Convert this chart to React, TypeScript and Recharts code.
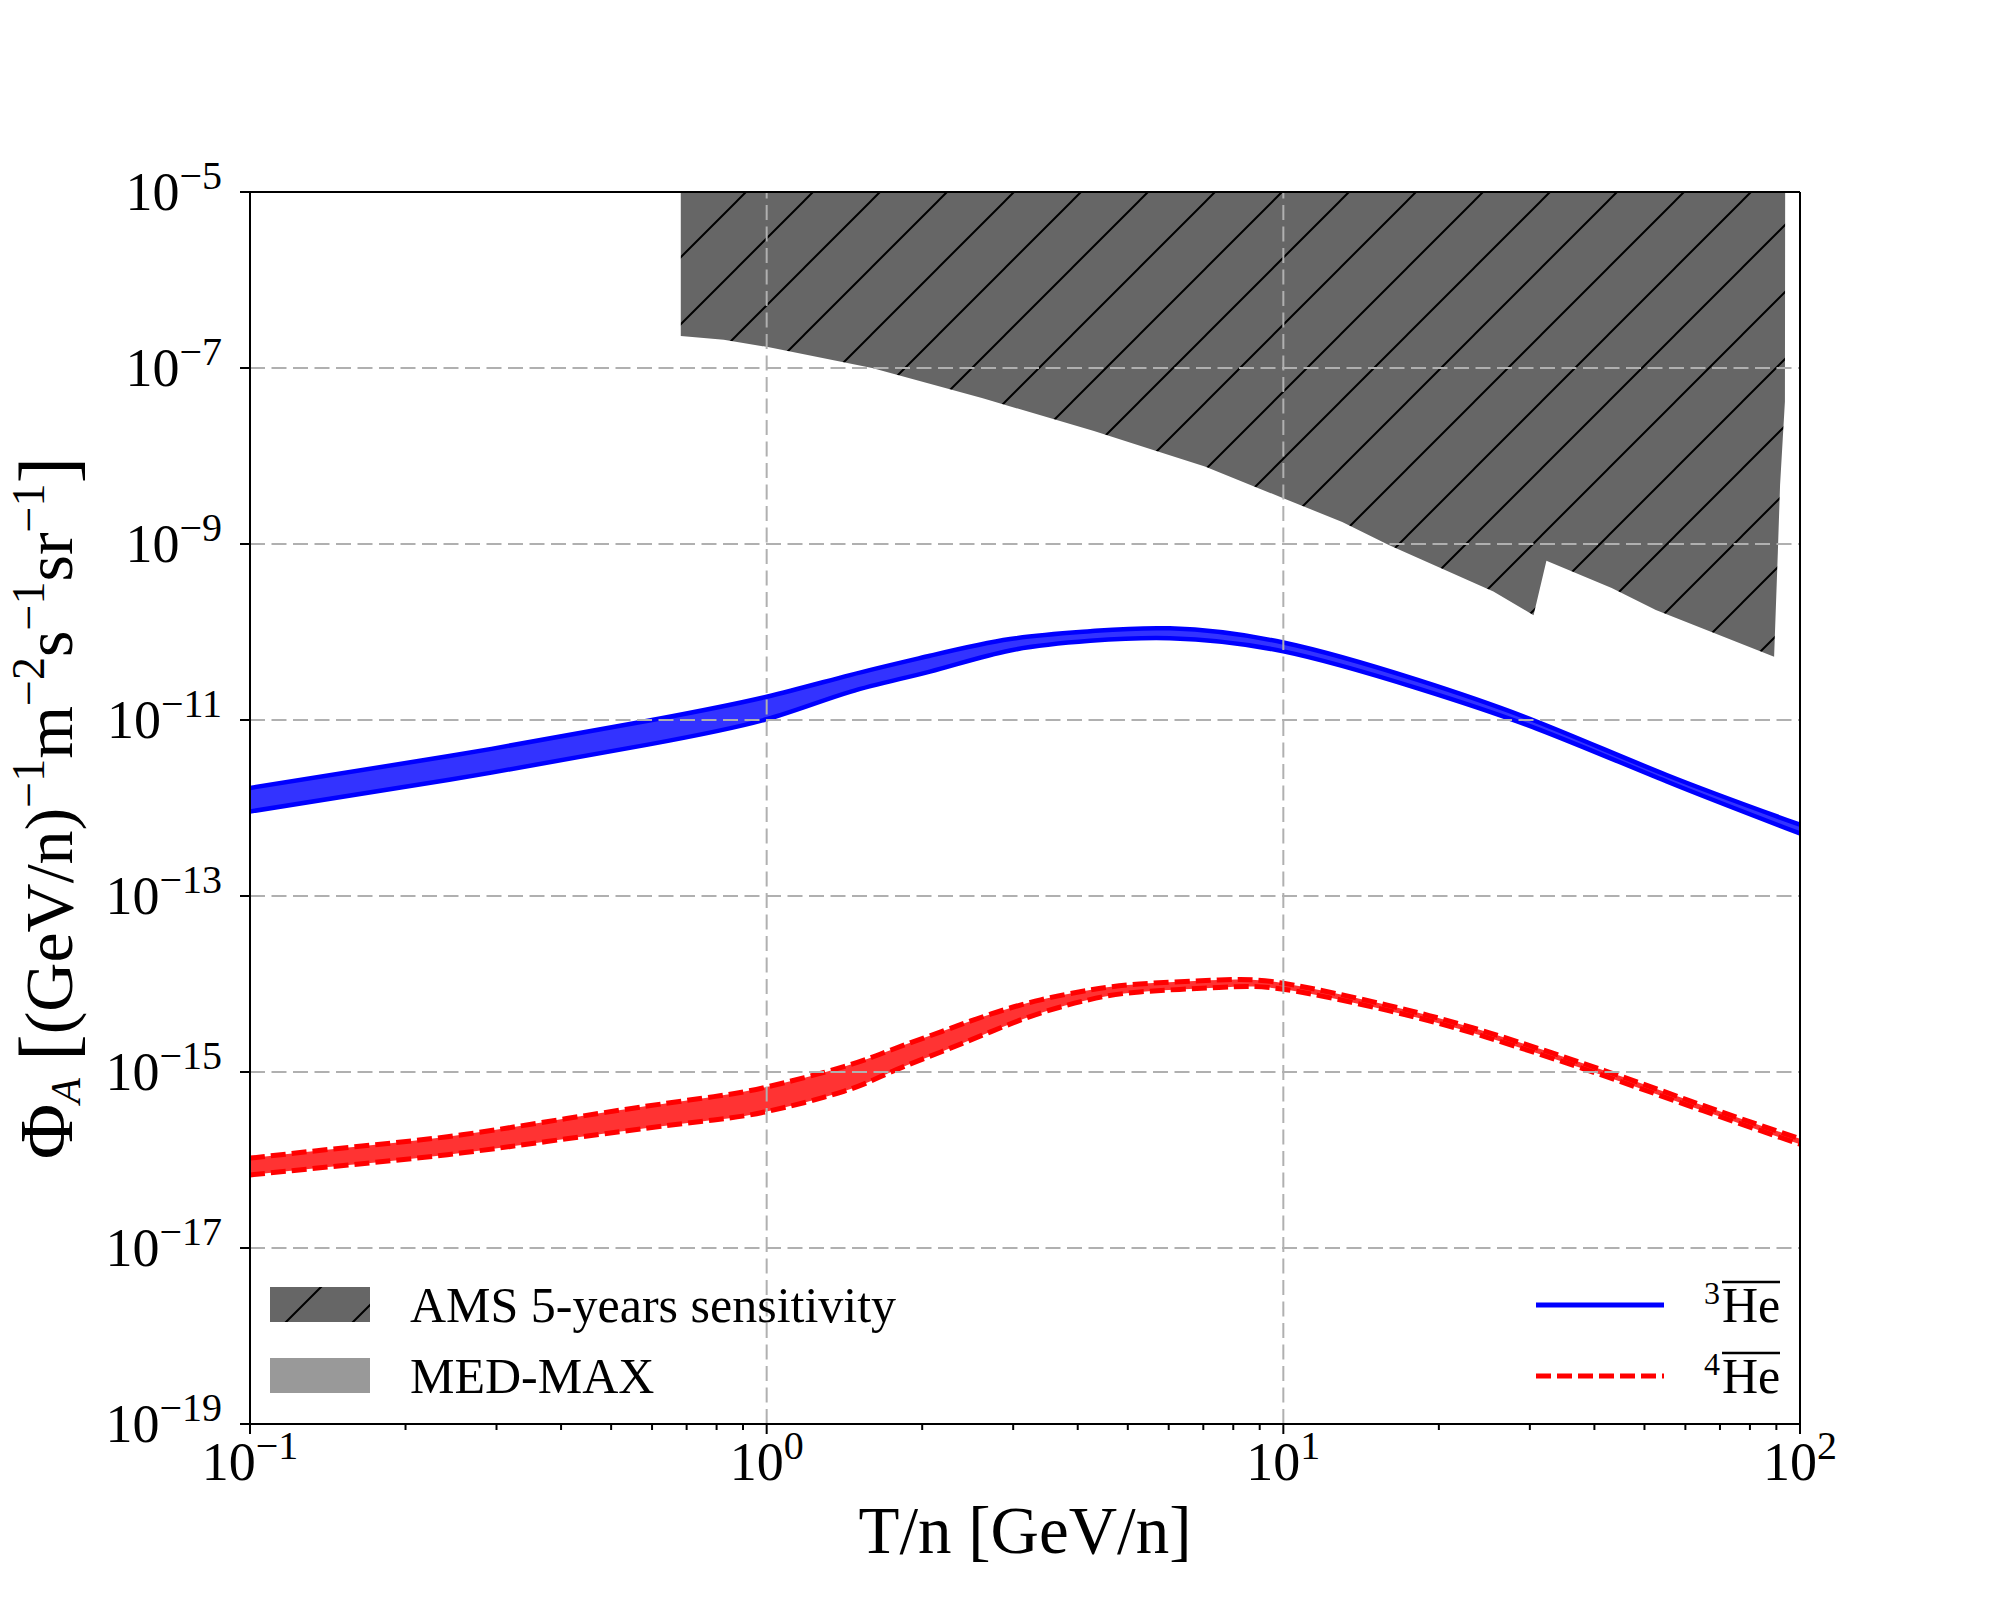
import React from 'react';
import { ComposedChart, Area, Line, XAxis, YAxis, ReferenceLine, Label } from 'recharts';

const FONT = '"Liberation Serif", "DejaVu Serif", serif';
const TICK_SIZE = 10;
const TICK_MARGIN = 18;

// axes
const xMajorTicks = [0.1, 1, 10, 100];
const xMajorExps = ['\u22121', '0', '1', '2'];
const xMinorTicks = [0.2, 0.3, 0.4, 0.5, 0.6, 0.7, 0.8, 0.9, 2, 3, 4, 5, 6, 7, 8, 9, 20, 30, 40, 50, 60, 70, 80, 90];
const yMajorTicks = [1e-19, 1e-17, 1e-15, 1e-13, 1e-11, 1e-9, 1e-7, 1e-5];
const yMajorExps = ['\u221219', '\u221217', '\u221215', '\u221213', '\u221211', '\u22129', '\u22127', '\u22125'];

// AMS 5-years sensitivity (lower edge, region extends to the top of the frame)
const amsT = [0.682, 0.826, 1.0, 1.6, 2.62, 4.3, 5.6, 7.05, 10, 13, 16, 19.6, 25.5, 30.5, 32.3, 43.2, 52.6, 89.1, 90.6, 91.5, 93.5, 93.6];
const amsLow = [2.31e-7, 2.09e-7, 1.74e-7, 1.0e-7, 4.52e-8, 1.92e-8, 1.17e-8, 7.59e-9, 3.31e-9, 1.78e-9, 9.77e-10, 5.75e-10, 2.88e-10, 1.55e-10, 6.46e-10, 3.16e-10, 1.78e-10, 5.25e-11, 8.13e-10, 4.68e-9, 4.17e-8, 1e-5];
const AMS_TOP = 1e-5;

// anti-3He band (MED-MAX)
const he3T = [0.1, 0.243, 0.589, 1.0, 1.45, 2.07, 2.96, 4.23, 6.03, 10, 18.2, 31, 55.2, 100];
const he3Upper = [1.69e-12, 3.89e-12, 9.8e-12, 1.84e-11, 3.24e-11, 5.37e-11, 8.32e-11, 1.02e-10, 1.10e-10, 7.59e-11, 2.85e-11, 9.55e-12, 2.37e-12, 6.46e-13];
const he3Lower = [9.12e-13, 2.09e-12, 5.25e-12, 1.02e-11, 2.09e-11, 3.55e-11, 6.17e-11, 7.94e-11, 8.51e-11, 6.03e-11, 2.29e-11, 7.94e-12, 2.0e-12, 5.13e-13];

// anti-4He band (MED-MAX)
const he4T = [0.1, 0.155, 0.241, 0.375, 0.582, 0.79, 1.0, 1.41, 1.74, 2.18, 2.72, 3.39, 4.2, 5.27, 7.5, 10, 15.9, 24.6, 41.8, 64.9, 100];
const he4Upper = [1.05e-16, 1.39e-16, 1.84e-16, 2.72e-16, 4.07e-16, 5.25e-16, 6.76e-16, 1.15e-15, 1.78e-15, 2.88e-15, 4.57e-15, 6.61e-15, 8.51e-15, 1.0e-14, 1.11e-14, 1.02e-14, 5.75e-15, 2.88e-15, 1.04e-15, 4.17e-16, 1.74e-16];
const he4Lower = [6.76e-17, 8.77e-17, 1.15e-16, 1.62e-16, 2.29e-16, 2.85e-16, 3.55e-16, 6.03e-16, 1.0e-15, 1.70e-15, 2.88e-15, 4.68e-15, 6.61e-15, 8.13e-15, 9.12e-15, 8.71e-15, 5.01e-15, 2.51e-15, 9.02e-16, 3.63e-16, 1.51e-16];

const legendPatches = [
  { label: 'AMS 5-years sensitivity', fill: 'url(#amsHatch)' },
  { label: 'MED-MAX', fill: '#999999' },
];
const legendLines = [
  { mass: '3', color: '#0000ff', dash: undefined },
  { mass: '4', color: '#ff0000', dash: '15 6' },
];

const amsData = amsT.map((t, i) => ({ t, lo: amsLow[i], hi: AMS_TOP }));
const he3Data = he3T.map((t, i) => ({ t, lo: he3Lower[i], hi: he3Upper[i] }));
const he4Data = he4T.map((t, i) => ({ t, lo: he4Lower[i], hi: he4Upper[i] }));

const XTick = (props: any) => {
  const { x, y, payload } = props;
  const axisY = y - TICK_SIZE - TICK_MARGIN;
  const i = xMajorTicks.indexOf(payload.value);
  return (
    <g>
      <line x1={x} x2={x} y1={axisY} y2={axisY + (i >= 0 ? 10 : 6)} stroke="#000" strokeWidth={2} />
      {i >= 0 && (
        <text x={x} y={axisY + 56} textAnchor="middle" fontFamily={FONT} fontSize={54} fill="#000">
          10<tspan dy={-21} fontSize={40}>{xMajorExps[i]}</tspan>
        </text>
      )}
    </g>
  );
};

const YTick = (props: any) => {
  const { x, y, payload } = props;
  const i = yMajorTicks.indexOf(payload.value);
  return (
    <text x={x} y={y + 18} textAnchor="end" fontFamily={FONT} fontSize={54} fill="#000">
      10<tspan dy={-21} fontSize={40}>{yMajorExps[i]}</tspan>
    </text>
  );
};

const YLabel = (props: any) => {
  const vb = props.viewBox;
  const cx = vb.x + 72;
  const cy = vb.y + vb.height / 2;
  const parts = [
    { s: '\u03A6', size: 76, shift: 0 },
    { s: 'A', size: 42, shift: 8, italic: true },
    { s: '\u00a0', size: 68, shift: 0 },
    { s: '[', size: 80, shift: 2 },
    { s: '(GeV/n)', size: 68, shift: 0 },
    { s: '\u22121', size: 46, shift: -28 },
    { s: 'm', size: 68, shift: 0 },
    { s: '\u22122', size: 46, shift: -28 },
    { s: 's', size: 68, shift: 0 },
    { s: '\u22121', size: 46, shift: -28 },
    { s: 'sr', size: 68, shift: 0 },
    { s: '\u22121', size: 46, shift: -28 },
    { s: ']', size: 80, shift: 2 },
  ];
  let prev = 0;
  return (
    <text x={cx} y={cy} transform={`rotate(-90 ${cx} ${cy})`} textAnchor="middle" fontFamily={FONT} fill="#000">
      {parts.map((p, k) => {
        const dy = p.shift - prev;
        prev = p.shift;
        return (
          <tspan key={k} dy={dy} fontFamily={FONT} fontSize={p.size} fontStyle={p.italic ? 'italic' : 'normal'}>
            {p.s}
          </tspan>
        );
      })}
    </text>
  );
};

const XLabel = (props: any) => {
  const vb = props.viewBox;
  return (
    <text x={vb.x + vb.width / 2} y={vb.y + 129} textAnchor="middle" fontFamily={FONT} fontSize={67} fill="#000">
      T/n [GeV/n]
    </text>
  );
};

const gridStyle = { stroke: '#b0b0b0', strokeWidth: 2, strokeDasharray: '15 6.5' };

export default function App() {
  return (
    <div style={{ position: 'absolute', left: 0, top: 0, width: 2000, height: 1600, background: '#fff' }}>
      <svg width={0} height={0} style={{ position: 'absolute' }}>
        <defs>
          <pattern id="amsHatch" patternUnits="userSpaceOnUse" width={67} height={67}>
            <rect width={67} height={67} fill="#666666" />
            <path d="M0,67 L67,0 M-8,8 L8,-8 M59,75 L75,59" stroke="#000" strokeWidth={2} />
          </pattern>
        </defs>
      </svg>
      <ComposedChart width={2000} height={1600} margin={{ top: 192, right: 200, bottom: 0, left: 0 }}>
        <XAxis
          dataKey="t"
          type="number"
          scale="log"
          domain={[0.1, 100]}
          allowDataOverflow
          ticks={[...xMajorTicks, ...xMinorTicks]}
          interval={0}
          tick={(p: any) => <XTick {...p} />}
          tickLine={false}
          tickSize={TICK_SIZE}
          tickMargin={TICK_MARGIN}
          axisLine={{ stroke: '#000', strokeWidth: 2 }}
          height={176}
        >
          <Label content={(p: any) => <XLabel {...p} />} />
        </XAxis>
        <YAxis
          type="number"
          scale="log"
          domain={[1e-19, 1e-5]}
          allowDataOverflow
          ticks={yMajorTicks}
          interval={0}
          tick={(p: any) => <YTick {...p} />}
          tickLine={{ stroke: '#000', strokeWidth: 2 }}
          tickSize={TICK_SIZE}
          tickMargin={TICK_MARGIN}
          axisLine={{ stroke: '#000', strokeWidth: 2 }}
          width={250}
        >
          <Label content={(p: any) => <YLabel {...p} />} />
        </YAxis>

        <Area
          data={amsData}
          dataKey={(d: any) => [d.lo, d.hi]}
          type="linear"
          fill="url(#amsHatch)"
          fillOpacity={1}
          stroke="none"
          isAnimationActive={false}
        />

        <Area
          data={he3Data}
          dataKey={(d: any) => [d.lo, d.hi]}
          type="natural"
          fill="#3333ff"
          fillOpacity={1}
          stroke="none"
          isAnimationActive={false}
        />
        <Line data={he3Data} dataKey="hi" type="natural" stroke="#0000ff" strokeWidth={4.5} dot={false} activeDot={false} isAnimationActive={false} />
        <Line data={he3Data} dataKey="lo" type="natural" stroke="#0000ff" strokeWidth={4.5} dot={false} activeDot={false} isAnimationActive={false} />

        <Area
          data={he4Data}
          dataKey={(d: any) => [d.lo, d.hi]}
          type="natural"
          fill="#ff3333"
          fillOpacity={1}
          stroke="none"
          isAnimationActive={false}
        />
        <Line data={he4Data} dataKey="hi" type="natural" stroke="#ff0000" strokeWidth={5} strokeDasharray="15 6" dot={false} activeDot={false} isAnimationActive={false} />
        <Line data={he4Data} dataKey="lo" type="natural" stroke="#ff0000" strokeWidth={5} strokeDasharray="15 6" dot={false} activeDot={false} isAnimationActive={false} />

        {xMajorTicks.slice(1, -1).map((v) => (
          <ReferenceLine key={`gx-${v}`} x={v} {...gridStyle} />
        ))}
        {yMajorTicks.slice(1, -1).map((v) => (
          <ReferenceLine key={`gy-${v}`} y={v} {...gridStyle} />
        ))}
        {/* top and right spines */}
        <ReferenceLine y={1e-5} stroke="#000" strokeWidth={2} />
        <ReferenceLine x={100} stroke="#000" strokeWidth={2} />
      </ComposedChart>

      {/* legend */}
      <svg width={2000} height={1600} style={{ position: 'absolute', left: 0, top: 0, pointerEvents: 'none' }}>
        {legendPatches.map((e, i) => (
          <g key={e.label}>
            <rect x={270} y={1287 + i * 71} width={100} height={35} fill={e.fill} />
            <text x={410} y={1322 + i * 71} fontFamily={FONT} fontSize={50} fill="#000">
              {e.label}
            </text>
          </g>
        ))}
        {legendLines.map((e, i) => (
          <g key={e.mass}>
            <line x1={1536} x2={1664} y1={1305 + i * 71} y2={1305 + i * 71} stroke={e.color} strokeWidth={5} strokeDasharray={e.dash} />
            <text x={1720} y={1304 + i * 71} textAnchor="end" fontFamily={FONT} fontSize={32} fill="#000">
              {e.mass}
            </text>
            <text x={1722} y={1322 + i * 71} fontFamily={FONT} fontSize={50} fill="#000">
              He
            </text>
            <line x1={1722} x2={1780} y1={1282 + i * 71} y2={1282 + i * 71} stroke="#000" strokeWidth={2.5} />
          </g>
        ))}
      </svg>
    </div>
  );
}
